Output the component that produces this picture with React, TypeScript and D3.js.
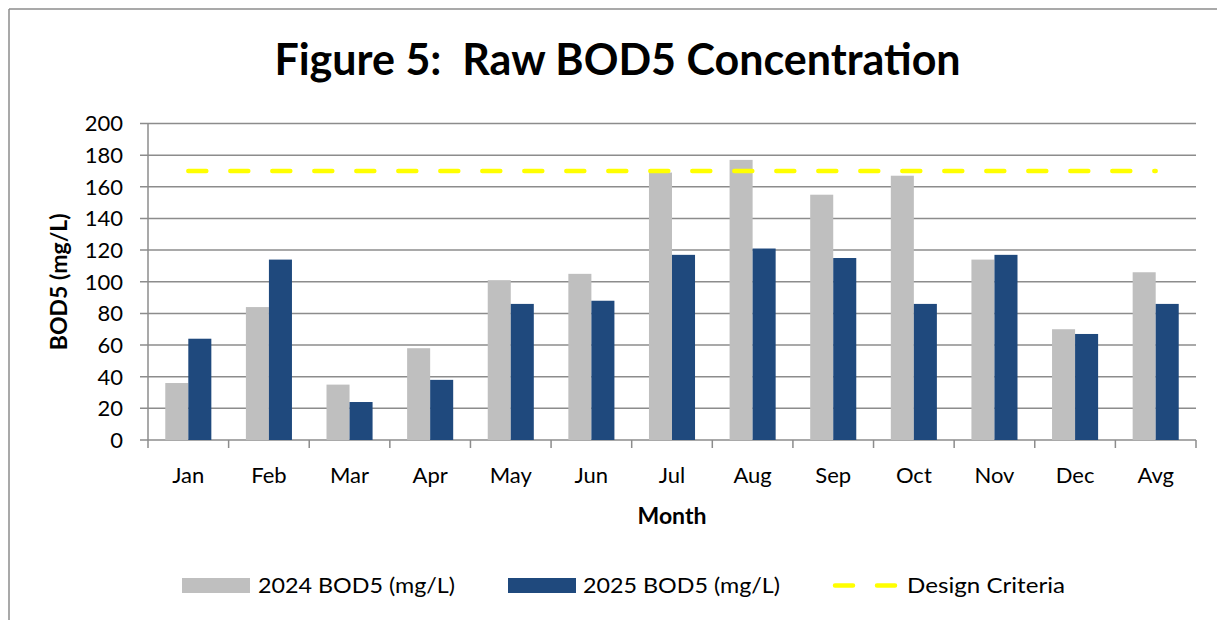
import React from 'react';
import * as d3 from 'd3';

const categories = ['Jan', 'Feb', 'Mar', 'Apr', 'May', 'Jun', 'Jul', 'Aug', 'Sep', 'Oct', 'Nov', 'Dec', 'Avg'];
const bod2024 = [36, 84, 35, 58, 101, 105, 169, 177, 155, 167, 114, 70, 106];
const bod2025 = [64, 114, 24, 38, 86, 88, 117, 121, 115, 86, 117, 67, 86];
const designCriteria = categories.map(() => 170);
const yTicks = [0, 20, 40, 60, 80, 100, 120, 140, 160, 180, 200];
const seriesNames = ['2024 BOD5 (mg/L)', '2025 BOD5 (mg/L)'];
const lineName = 'Design Criteria';

const FONT = 'Lato, "Open Sans", sans-serif';
const GRID = '#8c8c8c';
const GRAY = '#bfbfbf';
const BLUE = '#1f497d';
const YELLOW = '#ffff00';

const App = () => {
  const width = 1217;
  const height = 620;
  const left = 148;
  const right = 1196;
  const top = 123.5;
  const bottom = 440;

  const x = d3.scaleBand().domain(categories).range([left, right]).paddingInner(0).paddingOuter(0);
  const x1 = d3.scaleBand().domain(seriesNames).range([0, x.bandwidth()]).paddingInner(0).paddingOuter(0.75);
  const y = d3.scaleLinear().domain([0, 200]).range([bottom, top]);

  const line = d3.line<number>()
    .x((_, i) => (x(categories[i]) as number) + x.bandwidth() / 2)
    .y(d => y(d));

  const series = [bod2024, bod2025];
  const colors = [GRAY, BLUE];

  return (
    <svg width={width} height={height} style={{ position: 'absolute', left: 0, top: 0, background: '#fff' }}>
      {/* chart border */}
      <line x1={9} y1={9} x2={width} y2={9} stroke={GRID} strokeWidth={1.5} />
      <line x1={9} y1={9} x2={9} y2={height} stroke={GRID} strokeWidth={1.5} />

      <text x={617.5} y={75} textAnchor="middle" fontFamily={FONT} fontWeight="bold" fontSize={43} fill="#000" style={{ whiteSpace: 'pre' }}>
        {'Figure 5:  Raw BOD5 Concentration'}
      </text>

      {/* gridlines + y ticks */}
      {yTicks.map(t => (
        <g key={t}>
          <line x1={left - 8} x2={right} y1={y(t)} y2={y(t)} stroke={GRID} strokeWidth={1.5} />
          <text x={123} y={y(t)} dy="0.36em" textAnchor="end" fontFamily={FONT} fontSize={22} fill="#000">{t}</text>
        </g>
      ))}
      <line x1={left} x2={left} y1={top} y2={bottom} stroke={GRID} strokeWidth={1.5} />

      {/* x ticks */}
      {categories.map(c => (
        <line key={'t' + c} x1={x(c)} x2={x(c)} y1={bottom} y2={bottom + 8} stroke={GRID} strokeWidth={1.5} />
      ))}
      <line x1={right} x2={right} y1={bottom} y2={bottom + 8} stroke={GRID} strokeWidth={1.5} />

      {/* bars */}
      {categories.map((c, i) => (
        <g key={c}>
          {series.map((s, j) => (
            <rect
              key={j}
              x={(x(c) as number) + (x1(seriesNames[j]) as number)}
              y={y(s[i])}
              width={x1.bandwidth()}
              height={bottom - y(s[i])}
              fill={colors[j]}
            />
          ))}
          <text x={(x(c) as number) + x.bandwidth() / 2} y={483} textAnchor="middle" fontFamily={FONT} fontSize={22} fill="#000">{c}</text>
        </g>
      ))}

      {/* design criteria */}
      <path d={line(designCriteria) || ''} fill="none" stroke={YELLOW} strokeWidth={4.5} strokeLinecap="round" strokeDasharray="18 24" />

      {/* axis titles */}
      <text x={(left + right) / 2} y={524} textAnchor="middle" fontFamily={FONT} fontWeight="bold" fontSize={23} fill="#000">Month</text>
      <text transform={`translate(67,${(top + bottom) / 2}) rotate(-90)`} textAnchor="middle" fontFamily={FONT} fontWeight="bold" fontSize={23} fill="#000">BOD5 (mg/L)</text>

      {/* legend */}
      <rect x={182} y={578} width={68} height={15} fill={GRAY} />
      <text x={258} y={593} fontFamily={FONT} fontSize={22} textLength={197} lengthAdjust="spacingAndGlyphs" fill="#000">{seriesNames[0]}</text>
      <rect x={508} y={578} width={68} height={15} fill={BLUE} />
      <text x={583} y={593} fontFamily={FONT} fontSize={22} textLength={197} lengthAdjust="spacingAndGlyphs" fill="#000">{seriesNames[1]}</text>
      <line x1={835} x2={897} y1={585.5} y2={585.5} stroke={YELLOW} strokeWidth={4.5} strokeLinecap="round" strokeDasharray="18 24" />
      <text x={907} y={593} fontFamily={FONT} fontSize={22} textLength={158} lengthAdjust="spacingAndGlyphs" fill="#000">{lineName}</text>
    </svg>
  );
};

export default App;
